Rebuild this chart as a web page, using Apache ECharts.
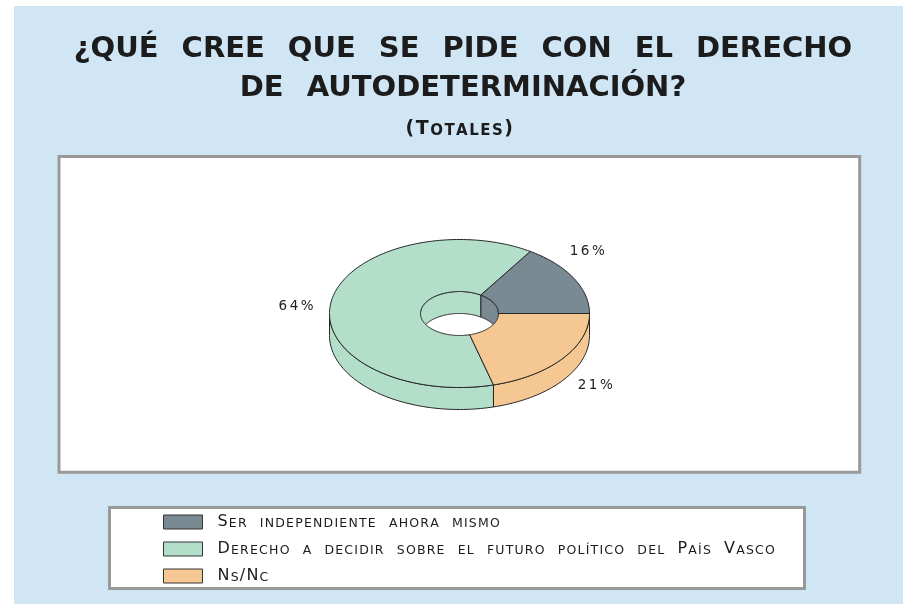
<!DOCTYPE html>
<html><head><meta charset="utf-8">
<script src="https://cdn.jsdelivr.net/npm/echarts@6/dist/echarts.min.js"></script>
<style>html,body{margin:0;padding:0;background:#fff}#c{width:903px;height:604px}</style>
</head><body><div id="c"></div>
<script>
const categories = ['Ser independiente ahora mismo', 'Derecho a decidir sobre el futuro político del País Vasco', 'Ns/Nc'];
const values = [16, 64, 21];
const valueLabels = ['16%', '64%', '21%'];
const colors = ['#798a93', '#b3dec9', '#f5c893'];
const titleLines = ['¿QUÉ CREE QUE SE PIDE CON EL DERECHO', 'DE AUTODETERMINACIÓN?'];
const subtitle = '(Totales)';

// small caps with per-character tokens (letter spacing emulation)
function smallCaps(str) {
  let out = '';
  for (const ch of str) {
    if (ch === ' ') { out += '{w| }'; continue; }
    const isLower = ch !== ch.toUpperCase();
    out += isLower ? '{s|' + ch.toUpperCase() + '}' : '{b|' + ch + '}';
  }
  return out;
}
function wideWords(str) {
  return str.split(' ').map(w => '{t|' + w + '}').join('{w| }');
}
function spacedChars(str) {
  let out = '';
  for (const ch of str) out += '{c|' + ch + '}';
  return out;
}

const total = values.reduce((a, b) => a + b, 0);
const startAngles = [];
let acc = 0;
values.forEach(v => { startAngles.push(acc / total * Math.PI * 2); acc += v; });

const G = { cx: 459.5, cy: 313.5, rx: 130, ry: 74, irx: 39, iry: 22, depth: 22 };
const STROKE = '#262626';
function pt(a, rx, ry, dy) { return [G.cx + rx * Math.cos(a), G.cy - ry * Math.sin(a) + (dy || 0)]; }
function arcPts(a0, a1, rx, ry, dy) {
  const n = Math.max(2, Math.ceil(Math.abs(a1 - a0) / (Math.PI / 120)));
  const pts = [];
  for (let i = 0; i <= n; i++) { const a = a0 + (a1 - a0) * i / n; pts.push(pt(a, rx, ry, dy)); }
  return pts;
}
const labelNudge = [[-4, -27, 'left'], [-15, 4, 'right'], [15, 5, 'left']];

function renderSlice(params, api) {
  const i = params.seriesIndex;
  const v = api.value(0);
  const a0 = startAngles[i];
  const a1 = a0 + v / total * Math.PI * 2;
  const fill = colors[i];
  const children = [];
  let lo = Math.max(a0, 0), hi = Math.min(a1, Math.PI);
  if (hi > lo) {
    const pts = arcPts(lo, hi, G.irx, G.iry, 0).concat(arcPts(hi, lo, G.irx, G.iry, G.depth));
    children.push({ type: 'polygon', z2: 1, shape: { points: pts }, style: { fill: fill, stroke: STROKE, lineWidth: 1 } });
  }
  lo = Math.max(a0, Math.PI); hi = Math.min(a1, Math.PI * 2);
  if (hi > lo) {
    const pts = arcPts(lo, hi, G.rx, G.ry, 0).concat(arcPts(hi, lo, G.rx, G.ry, G.depth));
    children.push({ type: 'polygon', z2: 1, shape: { points: pts }, style: { fill: fill, stroke: STROKE, lineWidth: 1 } });
  }
  const top = arcPts(a0, a1, G.rx, G.ry, 0).concat(arcPts(a1, a0, G.irx, G.iry, 0));
  children.push({ type: 'polygon', z2: 2, shape: { points: top }, style: { fill: fill, stroke: STROKE, lineWidth: 1 } });
  const mid = (a0 + a1) / 2;
  const anchor = pt(mid, G.rx, G.ry, Math.sin(mid) < 0 ? G.depth : 0);
  const nd = labelNudge[i];
  children.push({
    type: 'text', z2: 3,
    style: {
      x: anchor[0] + nd[0], y: anchor[1] + nd[1], text: spacedChars(valueLabels[i]),
      align: nd[2], verticalAlign: 'middle',
      rich: { c: { fontFamily: 'DejaVu Sans', fontSize: 13.5, fill: '#222', padding: [0, 2.5, 0, 0] } }
    }
  });
  return { type: 'group', children: children };
}

const titleRich = {
  t: { fontFamily: 'DejaVu Sans', fontWeight: 'bold', fontSize: 29, lineHeight: 40, color: '#1c1c1c' },
  w: { fontFamily: 'DejaVu Sans', fontWeight: 'bold', fontSize: 29, lineHeight: 40, width: 23 }
};
const INK = '#1c1c1c';

const chart = echarts.init(document.getElementById('c'), null, { renderer: 'canvas' });
const option = {
  backgroundColor: '#ffffff',
  animation: false,
  graphic: [
    { type: 'rect', z: -10, shape: { x: 14, y: 6, width: 889, height: 598 }, style: { fill: '#d1e6f5' } },
    { type: 'rect', z: -9, shape: { x: 59, y: 156.5, width: 800.7, height: 315.8 }, style: { fill: '#ffffff', stroke: '#999999', lineWidth: 3 } },
    { type: 'rect', z: -9, shape: { x: 109.5, y: 507.5, width: 695, height: 81 }, style: { fill: '#ffffff', stroke: '#999999', lineWidth: 3 } }
  ],
  title: [
    { text: wideWords(titleLines[0]), left: 463, textAlign: 'center', top: 29.5, padding: 0, textStyle: { rich: titleRich } },
    { text: wideWords(titleLines[1]), left: 463, textAlign: 'center', top: 68.5, padding: 0, textStyle: { rich: titleRich } },
    {
      text: smallCaps(subtitle), left: 460, textAlign: 'center', top: 120, padding: 0,
      textStyle: {
        rich: {
          b: { fontFamily: 'DejaVu Sans', fontWeight: 'bold', fontSize: 19, lineHeight: 19, verticalAlign: 'bottom', color: INK, padding: [0, 1.5, 0, 0] },
          s: { fontFamily: 'DejaVu Sans', fontWeight: 'bold', fontSize: 15, lineHeight: 15, verticalAlign: 'bottom', color: INK, padding: [0, 1.5, 0, 0] },
          w: { width: 8 }
        }
      }
    }
  ],
  legend: {
    orient: 'vertical', left: 163, top: 514, padding: 0,
    itemWidth: 39, itemHeight: 14, itemGap: 11, icon: 'rect', selectedMode: false,
    data: categories,
    itemStyle: { borderColor: '#333333', borderWidth: 1 },
    formatter: name => '{p|}' + smallCaps(name),
    textStyle: {
      rich: {
        p: { width: 10, height: 14 },
        b: { fontFamily: 'DejaVu Sans', fontSize: 16, lineHeight: 16, verticalAlign: 'bottom', color: INK, padding: [0, 1.2, 0, 0] },
        s: { fontFamily: 'DejaVu Sans', fontSize: 12.5, lineHeight: 12.5, verticalAlign: 'bottom', color: INK, padding: [0, 1.2, 0, 0] },
        w: { fontFamily: 'DejaVu Sans', fontSize: 12.5, lineHeight: 12.5, verticalAlign: 'bottom', width: 12 }
      }
    }
  },
  series: categories.map((name, i) => ({
    type: 'custom', name: name, coordinateSystem: 'none',
    itemStyle: { color: colors[i] },
    data: [values[i]],
    renderItem: renderSlice
  }))
};
chart.setOption(option);
</script>
</body></html>
